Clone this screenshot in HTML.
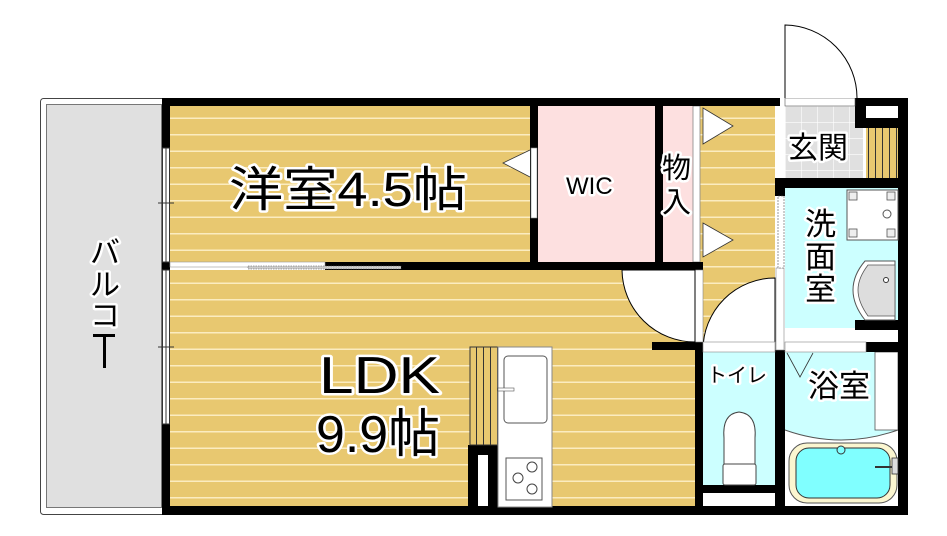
<!DOCTYPE html>
<html><head><meta charset="utf-8"><style>
html,body{margin:0;padding:0;background:#fff;width:947px;height:536px;overflow:hidden}
svg{display:block}
text{font-family:"Liberation Sans","Noto Sans CJK JP",sans-serif;fill:#000;stroke:#fff;stroke-width:5px;paint-order:stroke;stroke-linejoin:round}
</style></head><body>
<svg width="947" height="536" viewBox="0 0 947 536" xmlns="http://www.w3.org/2000/svg">
<defs>
<pattern id="wood" width="20" height="16.5" patternUnits="userSpaceOnUse" y="2">
<rect width="20" height="16.5" fill="#e8c870"/><rect y="0" width="20" height="1.5" fill="#fbecc0"/>
</pattern>
<pattern id="tile" width="16" height="16" patternUnits="userSpaceOnUse" x="785" y="106">
<rect width="16" height="16" fill="#e0e0e0"/><path d="M0 0H16M0 0V16" stroke="#fff" stroke-width="1.2"/>
</pattern>
<pattern id="vstripe" width="7" height="10" patternUnits="userSpaceOnUse">
<rect width="7" height="10" fill="#e8c870"/><rect width="1" height="10" fill="#333"/>
</pattern>
</defs>

<rect x="40.5" y="98.5" width="125" height="416" rx="3" fill="#fff" stroke="#444" stroke-width="1"/>
<rect x="46.5" y="104.5" width="115" height="403" fill="#e0e0e0" stroke="#777" stroke-width="1"/>

<rect x="170" y="106" width="360" height="156" fill="url(#wood)"/>
<rect x="170" y="270" width="525" height="236" fill="url(#wood)"/>
<rect x="700" y="106" width="75" height="244" fill="url(#wood)"/>
<rect x="538" y="106" width="117" height="156" fill="#fde0e0"/>
<rect x="663" y="106" width="30" height="156" fill="#fde0e0"/>
<rect x="693" y="106" width="7" height="156" fill="#fff" stroke="#888" stroke-width="0.8"/>
<rect x="785" y="106" width="78" height="72" fill="url(#tile)"/>
<rect x="866" y="128" width="32" height="50" fill="url(#vstripe)"/>
<rect x="776" y="106" width="9" height="72" fill="#fff"/>
<rect x="785" y="188" width="113" height="140" fill="#ccffff"/>
<rect x="703" y="352" width="72" height="133" fill="#ccffff"/>
<rect x="785" y="352" width="113" height="80" fill="#ccffff"/>
<rect x="785" y="430" width="113" height="76" fill="#fff"/>
<path d="M785 430 Q841 450 898 430" fill="#ccffff" stroke="#555" stroke-width="1"/>
<rect x="875" y="352" width="23" height="78" fill="#fff" stroke="#555" stroke-width="0.8"/>

<g fill="#000">
<rect x="162" y="98" width="376" height="8"/>
<rect x="530" y="98" width="250" height="8"/>
<rect x="855" y="98" width="53" height="8"/>
<rect x="855" y="98" width="12" height="30"/>
<rect x="866" y="118" width="32" height="10"/>
<rect x="898" y="98" width="10" height="417"/>
<rect x="162" y="98" width="8" height="50"/>
<rect x="162" y="262" width="8" height="8"/>
<rect x="162" y="424" width="8" height="91"/>
<rect x="162" y="506" width="746" height="9"/>
<rect x="325" y="262" width="378" height="8"/>
<rect x="530" y="98" width="8" height="172"/>
<rect x="655" y="98" width="8" height="172"/>
<rect x="775" y="178" width="133" height="10"/>
<rect x="775" y="178" width="10" height="18"/>
<rect x="652" y="342" width="51" height="8"/>
<rect x="695" y="342" width="8" height="173"/>
<rect x="775" y="350" width="10" height="165"/>
<rect x="703" y="485" width="72" height="8"/>
<rect x="855" y="320" width="53" height="10"/>
<rect x="866" y="342" width="42" height="10"/>
<rect x="468" y="445" width="30" height="62"/>
</g>
<rect x="866" y="106" width="32" height="12" fill="#fff"/>
<rect x="870" y="330" width="28" height="12" fill="#fff"/>
<rect x="703" y="493" width="72" height="13" fill="#fff"/>
<rect x="478" y="455" width="10" height="51" fill="#fff"/>

<g fill="#fff" stroke="#333" stroke-width="1">
<rect x="162.5" y="148" width="7" height="114"/>
<rect x="162.5" y="270" width="7" height="154"/>
</g>
<path d="M166 148V262M166 270V424M158 203H174M158 347H174" stroke="#333" stroke-width="1"/>
<rect x="170" y="262" width="155" height="5" fill="#fff" stroke="#999" stroke-width="0.6"/>
<rect x="248" y="266" width="153" height="3" fill="#ccc" stroke="#555" stroke-width="0.5" stroke-dasharray="1.5,1"/>
<rect x="531" y="148" width="6" height="70" fill="#fff" stroke="#888" stroke-width="0.6"/>
<path d="M530 150 L503 163 L530 177" fill="#fff" stroke="#333" stroke-width="0.8"/>
<path d="M703 108 L733 126 L703 144Z M703 223 L733 240 L703 257Z" fill="#fff" stroke="#333" stroke-width="0.8"/>
<rect x="785" y="98" width="70" height="8" fill="#fff" stroke="#555" stroke-width="0.6"/>
<path d="M785 98V25 A73 73 0 0 1 857 98" fill="#fff" stroke="#000" stroke-width="1"/>
<rect x="695" y="270" width="8" height="72" fill="#fff" stroke="#888" stroke-width="0.6"/>
<path d="M695 270 L622 270 A73 73 0 0 0 695 342Z" fill="#fff" stroke="#000" stroke-width="1"/>
<path d="M775 350 L703 350 A72 72 0 0 1 775 278Z" fill="#fff" stroke="#000" stroke-width="1"/>
<rect x="776" y="268" width="8" height="82" fill="#fff" stroke="#888" stroke-width="0.6"/>
<rect x="778" y="196" width="6" height="72" fill="#fff" stroke="#555" stroke-width="0.6" stroke-dasharray="2,1"/>
<rect x="703" y="342" width="72" height="10" fill="#fff" stroke="#888" stroke-width="0.6"/>
<rect x="785" y="342" width="81" height="10" fill="#fff" stroke="#888" stroke-width="0.6"/>
<path d="M787 353 L800 377 L813 353" fill="#ccffff" stroke="#333" stroke-width="0.8"/>

<rect x="847" y="190" width="51" height="50" fill="#fff" stroke="#555" stroke-width="1"/>
<g fill="#eee" stroke="#555" stroke-width="0.8"><rect x="849" y="192" width="8" height="8"/><rect x="887" y="192" width="8" height="8"/><rect x="849" y="229" width="8" height="8"/><rect x="887" y="229" width="8" height="8"/></g>
<circle cx="887" cy="214" r="4" fill="none" stroke="#555"/>
<path d="M895 261 H865 Q853 275 853 290 Q853 305 865 320 H895Z" fill="#fff" stroke="#555" stroke-width="1"/>
<path d="M895 265 H868 Q858 278 858 290 Q858 302 868 316 H895Z" fill="#ddd" stroke="#555" stroke-width="0.8"/>
<circle cx="886" cy="280" r="2.5" fill="#fff" stroke="#333"/>
<path d="M724 465 V438 Q722 414 739 412 Q757 414 755 438 V465" fill="#fff" stroke="#444" stroke-width="1"/>
<rect x="723" y="464" width="33" height="21" rx="2" fill="#fff" stroke="#444" stroke-width="1"/>
<rect x="789" y="443" width="108" height="60" rx="18" fill="#fbf6d0" stroke="#555" stroke-width="1"/>
<rect x="796" y="448" width="94" height="50" rx="13" fill="#80ffff" stroke="#333" stroke-width="1"/>
<circle cx="841" cy="450" r="4" fill="#80ffff" stroke="#333"/>
<path d="M875 467 H893" stroke="#333" stroke-width="2"/>
<rect x="892" y="458" width="6" height="16" fill="#ddd" stroke="#333" stroke-width="0.8"/>

<rect x="470" y="347" width="28" height="98" fill="url(#vstripe)" stroke="#333" stroke-width="1"/>
<rect x="498" y="347" width="54" height="160" fill="#fff" stroke="#888" stroke-width="1"/>
<rect x="504" y="356" width="43" height="67" rx="4" fill="#fff" stroke="#555" stroke-width="1"/>
<rect x="498" y="388" width="16" height="3" fill="#fff" stroke="#555" stroke-width="0.6"/>
<rect x="506" y="458" width="36" height="42" fill="#fff" stroke="#555" stroke-width="1"/>
<g fill="#fff" stroke="#444" stroke-width="1"><circle cx="532" cy="467" r="5"/><circle cx="518" cy="478" r="5"/><circle cx="532" cy="489" r="5"/></g>

<text x="229" y="206" font-size="48" textLength="238" lengthAdjust="spacingAndGlyphs">洋室4.5帖</text>
<text x="566" y="194" font-size="24" stroke-width="4">WIC</text>
<text x="662" y="178" font-size="29" stroke-width="4">物</text>
<text x="662" y="212" font-size="29" stroke-width="4">入</text>
<text x="788" y="158" font-size="30" stroke-width="4">玄関</text>
<text x="805" y="235" font-size="31" stroke-width="4">洗</text>
<text x="805" y="268" font-size="31" stroke-width="4">面</text>
<text x="805" y="300" font-size="31" stroke-width="4">室</text>
<text x="707" y="382" font-size="20" stroke-width="4">トイレ</text>
<text x="808" y="397" font-size="31" stroke-width="4">浴室</text>
<text x="319" y="393" font-size="52" textLength="121" lengthAdjust="spacingAndGlyphs">LDK</text>
<text x="316" y="452" font-size="52" textLength="124" lengthAdjust="spacingAndGlyphs">9.9帖</text>
<text x="90" y="263" font-size="30" stroke="none">バ</text>
<text x="90" y="295" font-size="30" stroke="none">ル</text>
<text x="90" y="326" font-size="30" stroke="none">コ</text>
<rect x="103" y="334" width="3" height="34" fill="#000"/>
<rect x="93" y="334" width="22" height="3" fill="#000"/>
</svg>
</body></html>
